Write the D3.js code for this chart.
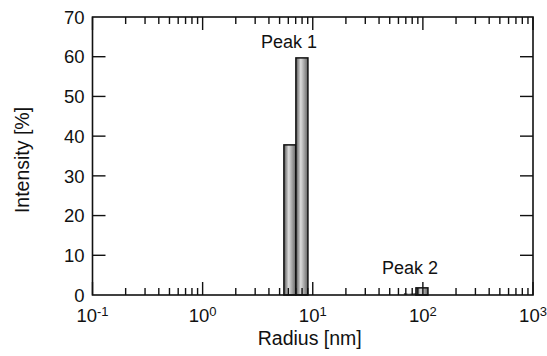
<!DOCTYPE html>
<html>
<head>
<meta charset="utf-8">
<script src="https://cdn.jsdelivr.net/npm/d3@7"></script>
<style>
  body { margin: 0; background: #fff; }
  svg text { font-family: "Liberation Sans", Arial, sans-serif; fill: #111; }
</style>
</head>
<body>
<div id="chart"></div>
<script>
// size distribution bins (radius edges in nm) and intensity [%]
var binLow = [5.47, 7.03, 67.3, 86.5];
var binHigh = [7.03, 9.04, 86.5, 111.2];
var intensity = [37.8, 59.7, 0.5, 1.8];

var peakNames = ["Peak 1", "Peak 2"];
var peakRadius = [6.1, 76.4];
var peakLevel = [62.2, 5.2];

var xTickValues = [0.1, 1, 10, 100, 1000];
var xTickExp = ["-1", "0", "1", "2", "3"];
var yTickValues = [0, 10, 20, 30, 40, 50, 60, 70];

function draw_Distribution() {
    "use strict";
    var width = 547, height = 356;
    var margin = {left: 92.5, right: 14, top: 17, bottom: 61};

    var svg = d3.select("#chart")
        .append("svg")
        .attr("width", width)
        .attr("height", height);

    var x = d3.scaleLog()
        .domain([0.1, 1000])
        .range([margin.left, width - margin.right]);
    var y = d3.scaleLinear()
        .domain([0, 70])
        .range([height - margin.bottom, margin.top]);

    var x0 = x.range()[0], x1 = x.range()[1];
    var y0 = y.range()[0], y1 = y.range()[1];

    var grad = svg.append("defs")
        .append("linearGradient")
        .attr("id", "barFill")
        .attr("x1", "0%").attr("x2", "100%")
        .attr("y1", "0%").attr("y2", "0%");
    grad.append("stop").attr("offset", "0%").attr("stop-color", "#555");
    grad.append("stop").attr("offset", "40%").attr("stop-color", "#dcdcdc");
    grad.append("stop").attr("offset", "100%").attr("stop-color", "#666");

    // bars
    svg.append("g")
        .selectAll("rect")
        .data(intensity)
        .enter()
        .append("rect")
        .attr("x", function (d, i) { return x(binLow[i]); })
        .attr("width", function (d, i) { return x(binHigh[i]) - x(binLow[i]); })
        .attr("y", function (d) { return y(d); })
        .attr("height", function (d) { return y(0) - y(d); })
        .style("fill", "url(#barFill)")
        .style("stroke", "#111")
        .style("stroke-width", function (d) { return d < 1 ? 0 : 1.5; });

    // minor + major ticks, inward on top and bottom
    var minor = [];
    for (var e = -1; e < 3; e++) {
        for (var m = 2; m <= 9; m++) {
            minor.push(m * Math.pow(10, e));
        }
    }
    var ticks = svg.append("g")
        .style("stroke", "#111")
        .style("stroke-width", 1.4);

    [y0, y1].forEach(function (base, k) {
        var dir = k === 0 ? -1 : 1;
        ticks.selectAll(null)
            .data(minor)
            .enter()
            .append("line")
            .attr("x1", function (d) { return x(d); })
            .attr("x2", function (d) { return x(d); })
            .attr("y1", base)
            .attr("y2", base + dir * 7);
        ticks.selectAll(null)
            .data(xTickValues)
            .enter()
            .append("line")
            .attr("x1", function (d) { return x(d); })
            .attr("x2", function (d) { return x(d); })
            .attr("y1", base)
            .attr("y2", base + dir * 13);
    });

    [x0, x1].forEach(function (base, k) {
        var dir = k === 0 ? 1 : -1;
        ticks.selectAll(null)
            .data(yTickValues.slice(1, -1))
            .enter()
            .append("line")
            .attr("x1", base)
            .attr("x2", base + dir * 13)
            .attr("y1", function (d) { return y(d); })
            .attr("y2", function (d) { return y(d); });
    });

    // frame
    svg.append("rect")
        .attr("x", x0)
        .attr("y", y1)
        .attr("width", x1 - x0)
        .attr("height", y0 - y1)
        .style("fill", "none")
        .style("stroke", "#111")
        .style("stroke-width", 1.6);

    // y tick labels
    svg.append("g")
        .selectAll("text")
        .data(yTickValues)
        .enter()
        .append("text")
        .attr("x", x0 - 8)
        .attr("y", function (d) { return y(d); })
        .attr("dy", "0.36em")
        .attr("text-anchor", "end")
        .style("font-size", "18.5px")
        .text(function (d) { return d; });

    // x tick labels, 10 with superscript exponent
    var xl = svg.append("g")
        .selectAll("text")
        .data(xTickValues)
        .enter()
        .append("text")
        .attr("x", function (d) { return x(d); })
        .attr("y", y0 + 27)
        .attr("text-anchor", "middle")
        .style("font-size", "18.5px");
    xl.append("tspan").text("10");
    xl.append("tspan")
        .attr("dy", "-0.45em")
        .style("font-size", "13px")
        .text(function (d, i) { return xTickExp[i]; });

    // axis titles
    svg.append("text")
        .attr("x", (x0 + x1) / 2 - 3)
        .attr("y", y0 + 50)
        .attr("text-anchor", "middle")
        .style("font-size", "19.5px")
        .text("Radius [nm]");

    svg.append("text")
        .attr("transform", "translate(29," + ((y0 + y1) / 2 + 4) + ") rotate(-90)")
        .attr("text-anchor", "middle")
        .style("font-size", "19.5px")
        .text("Intensity [%]");

    // peak labels
    svg.append("g")
        .selectAll("text")
        .data(peakNames)
        .enter()
        .append("text")
        .attr("x", function (d, i) { return x(peakRadius[i]); })
        .attr("y", function (d, i) { return y(peakLevel[i]); })
        .attr("text-anchor", "middle")
        .style("font-size", "18px")
        .text(function (d) { return d; });
}

draw_Distribution();
</script>
</body>
</html>
